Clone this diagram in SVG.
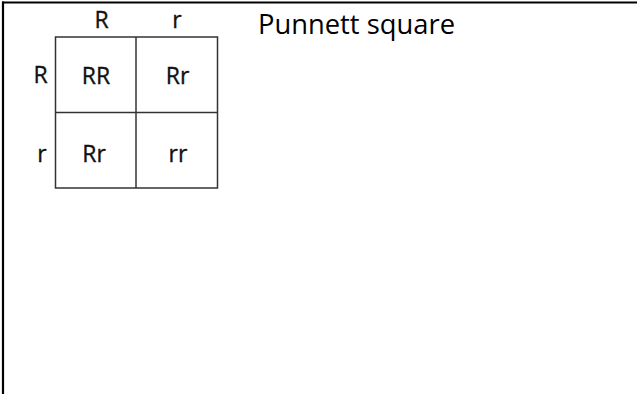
<svg xmlns="http://www.w3.org/2000/svg" width="637" height="394" viewBox="0 0 637 394">
<style>
.t{font-family:"Open Sans","Liberation Sans",sans-serif;font-size:23px;fill:#111;stroke:#111;stroke-width:0.35;text-anchor:middle}
.title{font-family:"Open Sans","Liberation Sans",sans-serif;font-size:27.5px;fill:#000}
.g{stroke:#333;stroke-width:1.5;fill:none}
.b{stroke:#000;stroke-width:2.2;fill:none}
</style>
<rect width="637" height="394" fill="#fff"/>
<g id="frame">
<line class="b" x1="2" y1="2.5" x2="637" y2="2.5"/>
<line class="b" x1="3" y1="1.5" x2="3" y2="394"/>
</g>
<g id="grid">
<rect class="g" x="55.5" y="37" width="162" height="151"/>
<line class="g" x1="136" y1="37" x2="136" y2="188"/>
<line class="g" x1="55.5" y1="112.5" x2="217.5" y2="112.5"/>
</g>
<g id="labels">
<text class="t" x="101.5" y="28">R</text>
<text class="t" x="177" y="28">r</text>
<text class="t" x="40.5" y="83">R</text>
<text class="t" x="42" y="162">r</text>
</g>
<g id="cells">
<text class="t" x="96" y="84">RR</text>
<text class="t" x="177.5" y="84">Rr</text>
<text class="t" x="94" y="162">Rr</text>
<text class="t" x="178" y="162">rr</text>
</g>
<g id="title">
<text class="title" x="258" y="34" textLength="197" lengthAdjust="spacingAndGlyphs">Punnett square</text>
</g>
</svg>
